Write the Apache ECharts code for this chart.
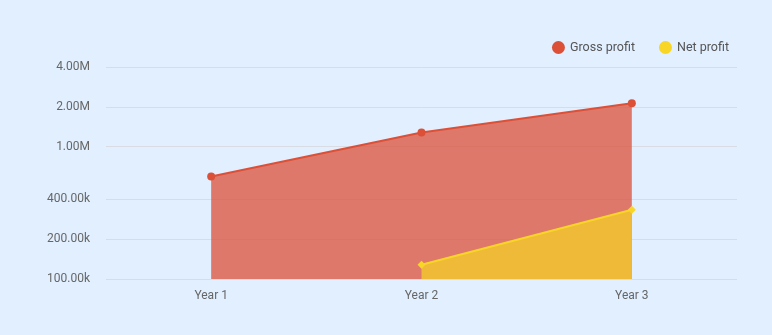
<!DOCTYPE html>
<html><head><meta charset="utf-8">
<script src="https://cdn.jsdelivr.net/npm/echarts@6/dist/echarts.min.js"></script>
<style>html,body{margin:0;padding:0;background:#e1efff;}#c{width:772px;height:335px;}</style>
</head><body><div id="c"></div>
<script>
const categories = ['Year 1', 'Year 2', 'Year 3'];
const grossProfit = [595000, 1280000, 2130000];
const netProfit = [null, 128000, 334000];
const yTicks = [100000, 200000, 400000, 1000000, 2000000, 4000000];
const yTickLabels = ['100.00k', '200.00k', '400.00k', '1.00M', '2.00M', '4.00M'];

const chart = echarts.init(document.getElementById('c'), null, {renderer: 'canvas'});
const font = 'Roboto';
chart.setOption({
  backgroundColor: '#e1efff',
  animation: false,
  textStyle: {fontFamily: font},
  legend: {
    right: 38, top: 36, icon: 'circle', itemWidth: 13, itemHeight: 13, itemGap: 24,
    textStyle: {fontFamily: font, fontSize: 12.5, color: '#555'},
    data: ['Gross profit', 'Net profit']
  },
  grid: {left: 106, right: 35, top: 67, bottom: 56, containLabel: false},
  xAxis: {
    type: 'category', data: categories, boundaryGap: true,
    axisLine: {show: false}, axisTick: {show: false},
    axisLabel: {fontFamily: font, fontSize: 12, color: '#666', margin: 11}
  },
  yAxis: {
    type: 'log', logBase: 10, min: yTicks[0], max: yTicks[yTicks.length - 1],
    axisLine: {show: false}, axisTick: {show: false, customValues: yTicks},
    splitLine: {lineStyle: {color: '#d9dde3', width: 1}},
    axisLabel: {
      customValues: yTicks, fontFamily: font, fontSize: 12, color: '#666', margin: 16,
      formatter: v => { const i = yTicks.findIndex(t => Math.abs(t - v) / t < 1e-6); return i >= 0 ? yTickLabels[i] : ''; }
    }
  },
  series: [
    {
      name: 'Gross profit', type: 'line', data: grossProfit,
      color: '#dc5038', symbol: 'circle', symbolSize: 8,
      lineStyle: {width: 2, color: '#dc5038'},
      itemStyle: {color: '#dc5038'},
      areaStyle: {color: '#dc5038', opacity: 0.75, origin: 'start'}
    },
    {
      name: 'Net profit', type: 'line', data: netProfit,
      color: '#f5d327', symbol: 'diamond', symbolSize: 8,
      lineStyle: {width: 2, color: '#f7d628'},
      itemStyle: {color: '#f7d628'},
      areaStyle: {color: '#f3c530', opacity: 0.85, origin: 'start'}
    }
  ]
});
</script></body></html>
